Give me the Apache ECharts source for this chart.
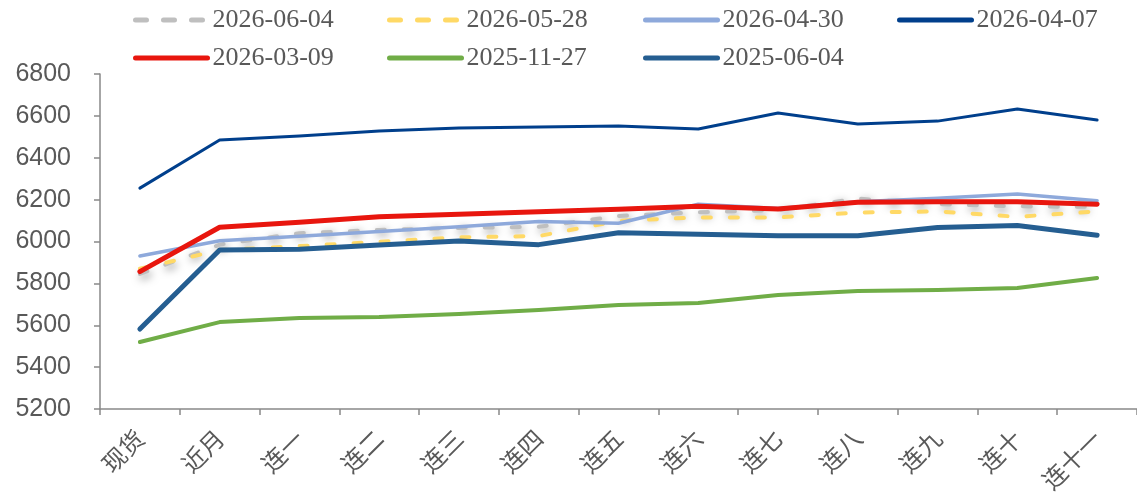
<!DOCTYPE html>
<html>
<head>
<meta charset="utf-8">
<script src="https://cdn.jsdelivr.net/npm/echarts@6/dist/echarts.min.js"></script>
<style>html,body{margin:0;padding:0;background:#fff;}#c{width:1137px;height:504px;}</style>
</head>
<body>
<div id="c"></div>
<script>
const categories = ['现货','近月','连一','连二','连三','连四','连五','连六','连七','连八','连九','连十','连十一'];
const s20260604 = [5845, 5985, 6040, 6055, 6065, 6070, 6122, 6140, 6150, 6205, 6178, 6168, 6165];
const s20260528 = [5870, 5959, 5978, 5999, 6020, 6026, 6099, 6115, 6115, 6138, 6144, 6118, 6144];
const s20260430 = [5931, 6004, 6025, 6048, 6071, 6095, 6087, 6178, 6158, 6190, 6206, 6227, 6195];
const s20260407 = [6255, 6485, 6504, 6528, 6542, 6547, 6552, 6537, 6614, 6561, 6575, 6633, 6580];
const s20260309 = [5856, 6068, 6092, 6118, 6130, 6142, 6154, 6168, 6155, 6187, 6190, 6190, 6178];
const s20251127 = [5520, 5615, 5635, 5639, 5654, 5673, 5697, 5706, 5745, 5764, 5768, 5778, 5826];
const s20250604 = [5582, 5959, 5963, 5983, 6002, 5985, 6042, 6035, 6027, 6027, 6067, 6076, 6030];
const yTicks = {min: 5200, max: 6800, interval: 200};

const names = ['2026-06-04','2026-05-28','2026-04-30','2026-04-07','2026-03-09','2025-11-27','2025-06-04'];
const dataArr = [s20260604, s20260528, s20260430, s20260407, s20260309, s20251127, s20250604];
const colors = ['#BFBFBF','#FFD966','#8EA9DB','#003F8C','#E8160E','#70AD47','#255E91'];
const widths = [4, 4, 3.5, 3, 5, 4, 5];
const dashed = [true, true, false, false, false, false, false];
const legendPos = [[133,7],[387,7],[643,7],[897,7],[133,45],[387,45],[643,45]];

const chart = echarts.init(document.getElementById('c'), null, {renderer:'canvas'});
const series = names.map((n,i)=>({
  name: n, type: 'line', data: dataArr[i], symbol: 'none', smooth: false,
  lineStyle: Object.assign({
    color: colors[i], width: widths[i],
    type: dashed[i] ? [8, 19] : 'solid', cap: 'round', join: 'round'
  }, i === 0 ? {shadowColor:'rgba(0,0,0,0.5)', shadowBlur:8, shadowOffsetX:2, shadowOffsetY:3} : {}),
  itemStyle: {color: colors[i]},
  z: 2 + i
}));
const legends = names.map((n,i)=>({
  data: [n], left: legendPos[i][0], top: legendPos[i][1], padding: 0,
  itemWidth: 72, itemHeight: 14, itemGap: 0,
  itemStyle: {opacity: 0},
  textStyle: {fontFamily: '"Liberation Serif", "Times New Roman", serif', fontSize: 26, color: '#595959', lineHeight: 26, padding:[0,0,0,0]},
  lineStyle: {width: 5, type: dashed[i] ? [11, 17] : 'solid', cap: 'round'}
}));
chart.setOption({
  animation: false,
  backgroundColor: '#fff',
  legend: legends,
  grid: {left: 100, top: 74, width: 1037, height: 335, containLabel: false},
  xAxis: {
    type: 'category', data: categories, boundaryGap: true,
    axisLine: {lineStyle: {color: '#898989', width: 1.5}},
    axisTick: {show: true, length: 6, lineStyle: {color: '#898989', width: 1.5}},
    axisLabel: {rotate: 45, interval: 0, fontSize: 24, color: '#595959', margin: 25, fontFamily: '"Noto Sans CJK SC", sans-serif'}
  },
  yAxis: {
    type: 'value', min: yTicks.min, max: yTicks.max, interval: yTicks.interval,
    axisLine: {show: true, lineStyle: {color: '#898989', width: 1.5}},
    axisTick: {show: true, length: 6, lineStyle: {color: '#898989', width: 1.5}},
    splitLine: {show: false},
    axisLabel: {fontSize: 25, color: '#595959', margin: 29, fontFamily: '"Liberation Sans", Arial, sans-serif', formatter: v => String(v)}
  },
  series: series
});
</script>
</body>
</html>
